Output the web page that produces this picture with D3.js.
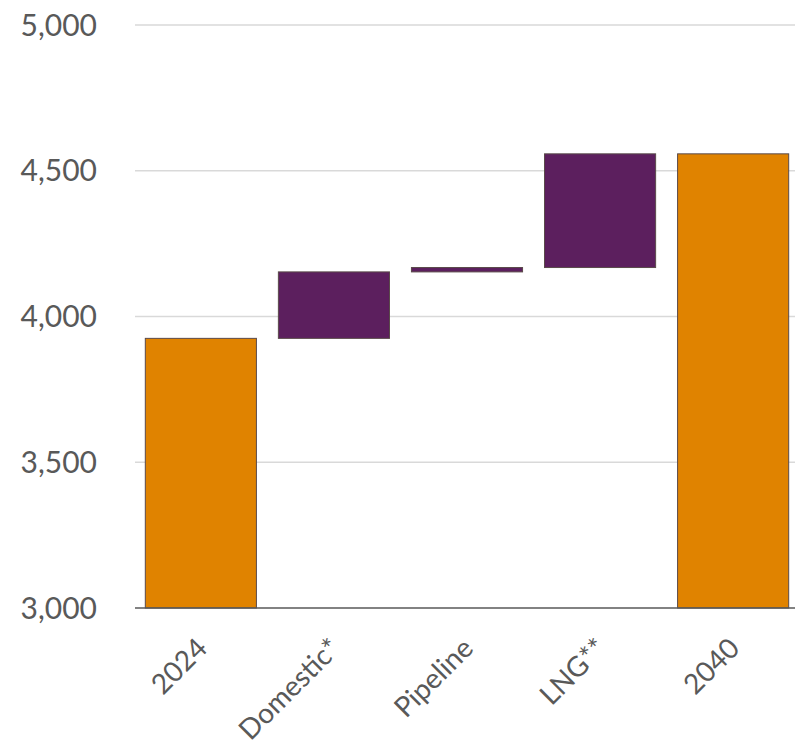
<!DOCTYPE html>
<html><head><meta charset="utf-8">
<script src="https://cdn.jsdelivr.net/npm/d3@7"></script>
<style>body{margin:0;background:#fff}svg{display:block}</style>
</head><body>
<svg id="c" width="795" height="753"></svg>
<script>
const categories = ["2024", "Domestic*", "Pipeline", "LNG**", "2040"];
const values = [3925, 228, 15, 390, 4558];
const kinds = ["total", "delta", "delta", "delta", "total"];
const yTicks = [3000, 3500, 4000, 4500, 5000];

const svg = d3.select("#c");
const x = d3.scaleBand().domain(categories).range([134, 800]).paddingInner(0.165).paddingOuter(0.085);
const y = d3.scaleLinear().domain([3000, 5000]).range([608, 25]);

let run = 0;
const bars = categories.map((c, i) => {
  let lo, hi;
  if (kinds[i] === "total") { lo = 3000; hi = values[i]; run = values[i]; }
  else { lo = run; hi = run + values[i]; run = hi; }
  return {c, lo, hi, kind: kinds[i]};
});

// gridlines
svg.append("g").selectAll("line").data(yTicks.filter(t => t !== 3000)).join("line")
  .attr("x1", 135).attr("x2", 795)
  .attr("y1", d => y(d)).attr("y2", d => y(d))
  .attr("stroke", "#d9d9d9").attr("stroke-width", 1.5);

// y labels
svg.append("g").selectAll("text").data(yTicks).join("text")
  .attr("x", 97).attr("y", d => y(d)).attr("dy", "0.35em")
  .attr("text-anchor", "end")
  .attr("font-family", "Lato, 'Open Sans', sans-serif").attr("font-size", 30)
  .attr("fill", "#595959")
  .text(d => d3.format(",")(d));

// bars
svg.append("g").selectAll("rect").data(bars).join("rect")
  .attr("x", d => x(d.c)).attr("width", x.bandwidth())
  .attr("y", d => y(d.hi)).attr("height", d => y(d.lo) - y(d.hi))
  .attr("fill", d => d.kind === "total" ? "#E08300" : "#5C1F5E")
  .attr("stroke", "#5a4a4a").attr("stroke-width", 1);

// axis line
svg.append("line").attr("x1", 135).attr("x2", 795).attr("y1", y(3000)).attr("y2", y(3000))
  .attr("stroke", "#595959").attr("stroke-width", 1.5);

// x labels
svg.append("g").selectAll("text").data(categories).join("text")
  .attr("transform", d => `translate(${x(d) + x.bandwidth()/2 + 8},${y(3000) + 42}) rotate(-45)`)
  .attr("text-anchor", "end")
  .attr("font-family", "Lato, 'Open Sans', sans-serif").attr("font-size", 28)
  .attr("fill", "#595959")
  .text(d => d);
</script>
</body></html>
